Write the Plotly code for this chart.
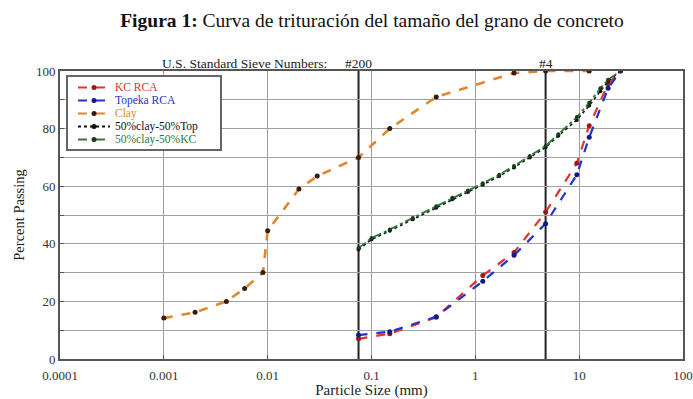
import plotly.graph_objects as go
import math

# ---- data ----
kc_size = [0.075, 0.15, 0.42, 1.18, 2.36, 4.75, 9.5, 12.5, 19, 25]
kc_pass = [7.0, 8.8, 14.5, 29.0, 37.0, 51.0, 68.0, 81.0, 95.5, 100]

top_size = [0.075, 0.15, 0.42, 1.18, 2.36, 4.75, 9.5, 12.5, 19, 25]
top_pass = [8.3, 9.5, 14.7, 27.0, 36.0, 47.0, 64.0, 77.0, 94.0, 100]

clay_size = [0.001, 0.002, 0.004, 0.006, 0.009, 0.01, 0.02, 0.03, 0.075, 0.15, 0.42, 2.36, 4.75, 12.5]
clay_pass = [14.2, 16.2, 20.0, 24.5, 30.0, 44.5, 59.0, 63.5, 70.0, 80.0, 91.0, 99.3, 100, 100]

mixT_size = [0.075, 0.1, 0.15, 0.25, 0.42, 0.6, 0.85, 1.18, 1.7, 2.36, 3.35, 4.75, 6.3, 9.5, 12.5, 16, 19, 25]
mixT_pass = [38.0, 41.5, 44.5, 48.5, 52.5, 55.5, 58.0, 60.5, 63.5, 66.5, 70.0, 73.5, 77.5, 83.0, 88.0, 93.0, 96.5, 100]

mixK_size = [0.075, 0.1, 0.15, 0.25, 0.42, 0.6, 0.85, 1.18, 1.7, 2.36, 3.35, 4.75, 6.3, 9.5, 12.5, 16, 19, 25]
mixK_pass = [38.5, 42.0, 45.0, 49.0, 53.0, 56.0, 58.5, 61.0, 64.0, 67.0, 70.5, 74.0, 78.0, 84.0, 89.0, 94.0, 97.0, 100]

sieve_sizes = [0.075, 4.75]
sieve_labels = ["#200", "#4"]

x_tickvals = [0.0001, 0.001, 0.01, 0.1, 1, 10, 100]
x_ticktext = ["0.0001", "0.001", "0.01", "0.1", "1", "10", "100"]
y_tickvals = [0, 10, 20, 30, 40, 50, 60, 70, 80, 90, 100]
y_ticktext = ["0", "", "20", "", "40", "", "60", "", "80", "", "100"]

SERIF = "Liberation Serif, Times New Roman, serif"

# plot area in pixels (for legend placement in paper coords)
L, R, T, B = 60, 10, 71, 40
W, H = 693, 399
PW, PH = W - L - R, H - T - B

def px(xp):
    return (xp - L) / PW

def py(yp):
    return 1 - (yp - T) / PH

series = [
    dict(x=kc_size, y=kc_pass, name="KC RCA", color="#e0322e", dash="dash", width=2.2, mcolor="#a01818", msize=5),
    dict(x=top_size, y=top_pass, name="Topeka RCA", color="#2234c8", dash="dash", width=2.2, mcolor="#101a90", msize=5),
    dict(x=clay_size, y=clay_pass, name="Clay", color="#e0862e", dash="dash", width=2.6, mcolor="#3a1a08", msize=5),
    dict(x=mixT_size, y=mixT_pass, name="50%clay-50%Top", color="#111111", dash="dot", width=1.6, mcolor="#111111", msize=4),
    dict(x=mixK_size, y=mixK_pass, name="50%clay-50%KC", color="#2e7a34", dash="dashdot", width=1.8, mcolor="#1a3a1a", msize=4),
]

fig = go.Figure()
for s in series:
    fig.add_trace(go.Scatter(
        x=s["x"], y=s["y"], mode="lines+markers", name=s["name"], showlegend=False,
        line=dict(color=s["color"], dash=s["dash"], width=s["width"]),
        marker=dict(color=s["mcolor"], size=s["msize"]),
    ))

# sieve lines
for s in sieve_sizes:
    fig.add_shape(type="line", xref="x", yref="y", x0=s, x1=s, y0=0, y1=100,
                  line=dict(color="#222222", width=2), layer="below")

fig.add_annotation(text="U.S. Standard Sieve Numbers:", xref="paper", yref="paper",
                   x=px(329), y=1.0, xanchor="right", yanchor="bottom",
                   showarrow=False, font=dict(family=SERIF, size=13.5, color="#222"), yshift=-2)
for s, lab in zip(sieve_sizes, sieve_labels):
    fig.add_annotation(text=lab, xref="x", yref="paper", x=math.log10(s), y=1.0,
                       xanchor="center", yanchor="bottom", showarrow=False, yshift=-2,
                       font=dict(family=SERIF, size=13.5, color="#222"))

# custom compact legend
fig.add_shape(type="rect", xref="paper", yref="paper", x0=px(67), x1=px(221), y0=py(76), y1=py(150),
              line=dict(color="#666", width=2), fillcolor="white", layer="above")
for i, s in enumerate(series):
    yy = py(87.5 + i * 13)
    fig.add_shape(type="line", xref="paper", yref="paper", x0=px(78), x1=px(110), y0=yy, y1=yy,
                  line=dict(color=s["color"], dash=s["dash"] if s["dash"] != "dashdot" else "dash", width=2),
                  layer="above")
    fig.add_shape(type="circle", xref="paper", yref="paper", xsizemode="pixel", ysizemode="pixel",
                  xanchor=px(94), yanchor=yy, x0=-2.5, x1=2.5, y0=-2.5, y1=2.5,
                  fillcolor=s["mcolor"], line=dict(color=s["mcolor"], width=0), layer="above")
    fig.add_annotation(text=s["name"], xref="paper", yref="paper", x=px(114), y=yy,
                       xanchor="left", yanchor="middle", showarrow=False,
                       font=dict(family=SERIF, size=11.5, color=s["color"]),
                       borderpad=0)

fig.update_layout(
    width=W, height=H,
    margin=dict(l=L, r=R, t=T, b=B),
    paper_bgcolor="white", plot_bgcolor="white",
    title=dict(text="<b>Figura 1:</b> Curva de trituración del tamaño del grano de concreto",
               x=372 / W, xanchor="center", xref="container", y=1 - 20 / H, yanchor="middle",
               font=dict(family=SERIF, size=19.5, color="#111")),
    font=dict(family=SERIF, size=12, color="#333"),
    showlegend=False,
)

fig.update_xaxes(type="log", range=[-4, 2], tickvals=x_tickvals, ticktext=x_ticktext,
                 showgrid=True, gridcolor="#a0a0a0", gridwidth=1.2,
                 showline=True, linecolor="#555", linewidth=2, mirror=True,
                 ticks="inside", ticklen=4, tickcolor="#555", ticklabelstandoff=3,
                 automargin=False,
                 title=dict(text="Particle Size (mm)", font=dict(family=SERIF, size=15, color="#222"), standoff=1),
                 tickfont=dict(family=SERIF, size=13, color="#333"), zeroline=False)
fig.update_yaxes(range=[0, 100], tickvals=y_tickvals, ticktext=y_ticktext,
                 showgrid=True, gridcolor="#a0a0a0", gridwidth=1.2,
                 showline=True, linecolor="#555", linewidth=2, mirror=True,
                 ticks="inside", ticklen=4, tickcolor="#555", automargin=False,
                 title=dict(text="Percent Passing", font=dict(family=SERIF, size=14.5, color="#222"), standoff=8),
                 tickfont=dict(family=SERIF, size=13, color="#333"), zeroline=False)

fig.write_html("out.html")
